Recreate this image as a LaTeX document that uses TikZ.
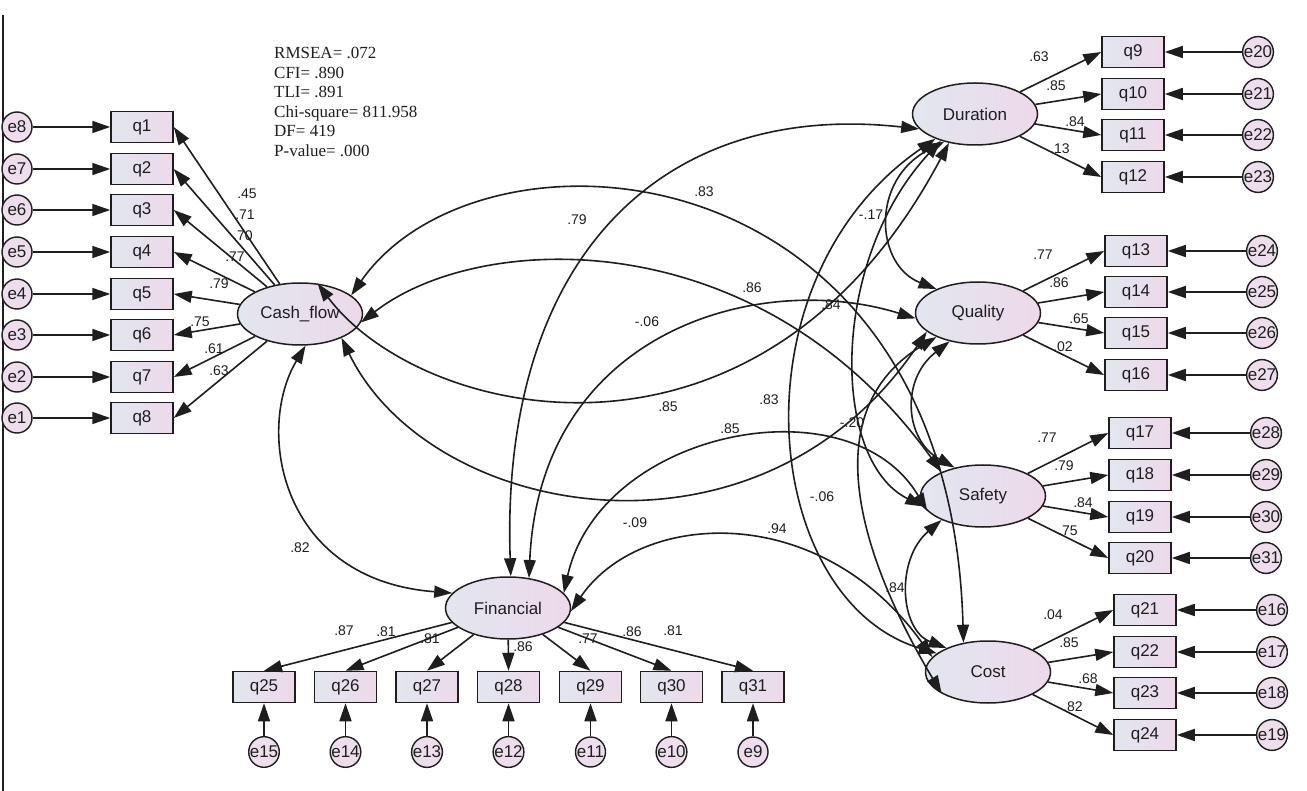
\documentclass[tikz,border=0pt]{standalone}
\usepackage{fontspec}
\newfontfamily\amosfont{Liberation Sans}
\newfontfamily\statfont{Liberation Serif}
\usetikzlibrary{shapes.geometric,arrows.meta}
\definecolor{tonoA}{HTML}{E2E6EF}
\definecolor{tonoB}{HTML}{EDD9EA}
\definecolor{tonoE}{HTML}{EEDDED}
\definecolor{tinta}{HTML}{1E1E1E}
\tikzset{
  indicador/.style={draw=tinta, line width=1.5pt, left color=tonoA, right color=tonoB, minimum width=62pt, minimum height=31pt, inner sep=0pt, font=\fontsize{17}{19}\amosfont, text=tinta},
  latente/.style={ellipse, draw=tinta, line width=1.5pt, left color=tonoA, right color=tonoB, minimum width=125pt, minimum height=62pt, inner sep=0pt, font=\fontsize{17}{19}\amosfont, text=tinta},
  residuo/.style={circle, draw=tinta, line width=1.4pt, fill=tonoE, minimum size=30pt, inner sep=0pt, font=\fontsize{17}{19}\amosfont, text=tinta},
  carga/.style={draw=tinta, line width=1.6pt, -{Triangle[length=18pt,width=12pt]}},
  covar/.style={draw=tinta, line width=1.6pt, {Triangle[length=18pt,width=12pt]}-{Triangle[length=18pt,width=12pt]}},
  coef/.style={inner sep=0pt, font=\fontsize{14}{16}\amosfont, text=tinta},
  ajuste/.style={inner sep=0pt, anchor=base west, font=\fontsize{17}{19}\statfont, text=tinta},
}
\begin{document}
\begin{tikzpicture}[x=1pt, y=-1pt]
\useasboundingbox (0,0) rectangle (1307,791);
\fill[white] (0,0) rectangle (1307,791);
\draw[tinta, line width=2pt] (2.5,15) -- (2.5,791);

\foreach \t [count=\n] in {RMSEA= .072, CFI= .890, TLI= .891, Chi-square= 811.958, DF= 419, P-value= .000}
  \node[ajuste] (fit\n) at (274,{59+19.5*(\n-1)}) {\t};

\node[latente] (cash) at (300,314) {Cash\_flow};
\node[latente] (dur) at (975,114) {Duration};
\node[latente] (qual) at (978,313) {Quality};
\node[latente] (safe) at (983,496) {Safety};
\node[latente] (cost) at (988,672) {Cost};
\node[latente] (fin) at (508,608) {Financial};

\foreach \k/\yy/\val/\lx/\ly in {1/127/.45/247/194, 2/169/.71/245/215, 3/210/.70/243/236, 4/252/.77/235/257,
    5/294/.79/219/284, 6/335/.75/200/322, 7/377/.61/214/349, 8/418/.63/219/371}{
  \pgfmathtruncatemacro{\ee}{9-\k}
  \node[indicador] (q\k) at (142,\yy) {q\k};
  \node[residuo] (e\ee) at (17,\yy) {e\ee};
  \draw[carga] (e\ee) -- (q\k);
  \draw[carga] (cash) -- (q\k.east);
  \node[coef] (c\k) at (\lx,\ly) {\val};
}

\foreach \k/\ee/\xq/\xe/\yy/\lat/\val/\lx/\ly in {
    9/20/1133/1258/52/dur/.63/1039/57, 10/21/1133/1258/94/dur/.85/1056/86,
    11/22/1133/1258/135/dur/.84/1075/122, 12/23/1133/1258/177/dur/.13/1060/149,
    13/24/1136/1262/251/qual/.77/1043/255, 14/25/1136/1262/292/qual/.86/1059/283,
    15/26/1136/1262/333/qual/.65/1079/319, 16/27/1136/1262/375/qual/.02/1063/347,
    17/28/1140/1266/433/safe/.77/1047/438, 18/29/1140/1266/475/safe/.79/1064/466,
    19/30/1140/1266/517/safe/.84/1083/503, 20/31/1140/1266/558/safe/.75/1068/531,
    21/16/1145/1272/610/cost/.04/1053/615, 22/17/1145/1272/652/cost/.85/1069/643,
    23/18/1145/1272/693/cost/.68/1088/679, 24/19/1145/1272/735/cost/.82/1073/707}{
  \node[indicador] (q\k) at (\xq,\yy) {q\k};
  \node[residuo] (e\ee) at (\xe,\yy) {e\ee};
  \draw[carga] (e\ee) -- (q\k);
  \draw[carga] (\lat) -- (q\k.west);
  \node[coef] (c\k) at (\lx,\ly) {\val};
}

\foreach \k/\ee/\xx/\val/\lx/\ly in {25/15/264/.87/344/631, 26/14/345.5/.81/386/632,
    27/13/427/.81/430/639, 28/12/508.5/.86/523/647, 29/11/590.5/.77/588/639,
    30/10/671.5/.86/632/632, 31/9/753/.81/673/631}{
  \node[indicador] (q\k) at (\xx,687) {q\k};
  \node[residuo] (e\ee) at (\xx,752) {e\ee};
  \draw[carga] (e\ee) -- (q\k);
  \draw[carga] (fin) -- (q\k.north);
  \node[coef] (c\k) at (\lx,\ly) {\val};
}

\draw[covar] (cash.-80) .. controls (255,430) and (280,580) .. (fin.165);
\draw[covar] (fin.85) .. controls (500,260) and (660,100) .. (dur.195);
\draw[covar] (cash.20) .. controls (480,110) and (950,140) .. (cost.130);
\draw[covar] (cash.-8) .. controls (480,230) and (760,220) .. (safe.150);
\draw[covar] (cash.60) .. controls (420,420) and (760,500) .. (dur.228);
\draw[covar] (cash.-30) .. controls (430,520) and (760,580) .. (qual.200);
\draw[covar] (fin.55) .. controls (540,330) and (760,270) .. (qual.185);
\draw[covar] (fin.15) .. controls (600,430) and (850,380) .. (safe.195);
\draw[covar] (fin.-3) .. controls (640,510) and (820,500) .. (cost.165);
\draw[covar] (dur.222) .. controls (870,180) and (875,265) .. (qual.150);
\draw[covar] (safe.210) .. controls (895,560) and (900,630) .. (cost.150);
\draw[covar] (dur.212) .. controls (730,280) and (760,600) .. (cost.160);
\draw[covar] (dur.218) .. controls (830,260) and (830,460) .. (safe.190);
\draw[covar] (qual.210) .. controls (800,420) and (880,590) .. (cost.205);
\draw[covar] (qual.225) .. controls (900,380) and (905,440) .. (safe.135);

\node[coef] (r1) at (704,192) {.83};
\node[coef] (r2) at (577,220) {.79};
\node[coef] (r3) at (871,215) {-.17};
\node[coef] (r4) at (752,288) {.86};
\node[coef] (r5) at (831,305) {.84};
\node[coef] (r6) at (647,322) {-.06};
\node[coef] (r7) at (668,407) {.85};
\node[coef] (r8) at (769,400) {.83};
\node[coef] (r9) at (730,429) {.85};
\node[coef] (r10) at (852,423) {-.20};
\node[coef] (r11) at (635,523) {-.09};
\node[coef] (r12) at (777,529) {.94};
\node[coef] (r13) at (822,497) {-.06};
\node[coef] (r14) at (895,588) {.84};
\node[coef] (r15) at (300,548) {.82};
\end{tikzpicture}
\end{document}
